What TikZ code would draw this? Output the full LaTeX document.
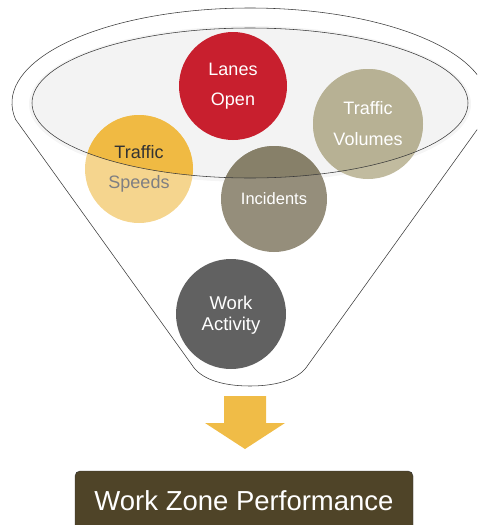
\documentclass[tikz,border=0pt]{standalone}
\usepackage{fontspec}
\setmainfont{Liberation Sans}
\begin{document}
\definecolor{laneRed}{HTML}{C81F2E}
\definecolor{volIn}{HTML}{B7B194}
\definecolor{volOut}{HTML}{C1BB9F}
\definecolor{spdIn}{HTML}{F0BA43}
\definecolor{spdOut}{HTML}{F5D58E}
\definecolor{incIn}{HTML}{878069}
\definecolor{incOut}{HTML}{958E7B}
\definecolor{workGray}{HTML}{616161}
\definecolor{perfBrown}{HTML}{4F4428}
\definecolor{arrowGold}{HTML}{F0BC47}
\definecolor{rimFill}{HTML}{F3F3F3}
\definecolor{lineGray}{HTML}{3A3A3A}
\begin{tikzpicture}[x=1pt,y=-1pt,
  bubble/.style={circle,draw=none,inner sep=0pt,minimum size=#1},
  bubble/.default=108pt,
  label18/.style={align=center,text=white,font=\fontsize{18}{30}\selectfont},
  funnelline/.style={draw=lineGray,line width=0.55pt}]
\useasboundingbox (0,0) rectangle (477,525);
\clip (0,0) rectangle (477,525);

% funnel body: upper rim of the cone, straight sides and rounded spout
\draw[funnelline]
  (250,103) ++(190:238pt and 95pt) arc[start angle=190,end angle=-10,x radius=238pt,y radius=95pt]
  -- (308,365) .. controls (300,378) and (280,386) .. (250,386)
  .. controls (220,386) and (200,378) .. (192,365) -- cycle;

% opening of the funnel
\fill[black!4] (250,104) ellipse[x radius=221pt,y radius=78pt];
\fill[rimFill] (250,103) ellipse[x radius=218pt,y radius=75pt];

% factor bubbles
\node[bubble,fill=laneRed] (lanes) at (233,86) {};
\node[bubble=110pt,fill=volOut] (volumes) at (368,124) {};
\node[bubble,fill=spdOut] (speeds) at (139,169) {};
\node[bubble=106pt,fill=incOut] (incidents) at (274,199) {};
\node[bubble=110pt,fill=workGray] (work) at (231,314) {};

% parts of the bubbles lying inside the opening are deeper in tone
\begin{scope}
  \clip (250,103) ellipse[x radius=218pt,y radius=75pt];
  \fill[volIn] (volumes.center) circle[radius=55pt];
  \fill[spdIn] (speeds.center) circle[radius=54pt];
  \fill[incIn] (incidents.center) circle[radius=53pt];
\end{scope}

% rim of the opening
\draw[funnelline] (250,103) ellipse[x radius=218pt,y radius=75pt];

% bubble captions
\node[label18] at (lanes.center) {Lanes\\Open};
\node[label18,font=\fontsize{18}{31}\selectfont] at (volumes.center) {Traffic\\Volumes};
\node[label18] at (speeds.center) {\textcolor[HTML]{333333}{Traffic}\\\textcolor[HTML]{7F7F82}{Speeds}};
\node[label18,font=\fontsize{16.5}{20}\selectfont] at (incidents.center) {Incidents};
\node[label18,font=\fontsize{18.5}{21}\selectfont] at ([yshift=-1.5pt]work.center) {Work\\Activity};

% output arrow and result box
\node[draw=black!80,fill=perfBrown,rounded corners=5pt,minimum width=338pt,minimum height=60pt,
      text=white,font=\fontsize{27.5}{30}\selectfont,inner sep=0pt] (perf) at (244,501) {Work Zone Performance};
\coordinate (flow) at (245,396);
\fill[arrowGold] (flow) ++(-21,0) -- ++(42,0) -- ++(0,27) -- ++(19,0) -- (245,449)
  -- (205,423) -- ++(19,0) -- cycle;
\end{tikzpicture}
\end{document}
